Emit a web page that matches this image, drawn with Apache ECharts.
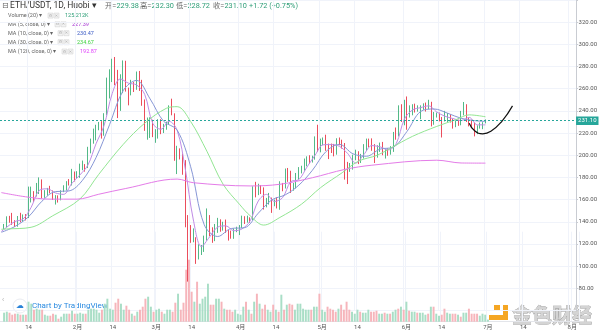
<!DOCTYPE html>
<html><head><meta charset="utf-8">
<script src="https://cdn.jsdelivr.net/npm/echarts@6/dist/echarts.min.js"></script>
<style>html,body{margin:0;padding:0;background:#fff}#c{width:600px;height:333px}</style>
</head><body><div id="c"></div>
<script>
// ---------- DATA ----------
const axisStart = '2020-01-04', axisEnd = '2020-08-03', candleStart = '2020-01-05';
const symbolTitle = 'ETH/USDT, 1D, Huobi ▾';

const open = [
134.2,135.4,144.2,142.8,140.7,137.7,144.8,142.4,146.5,143.6,165.6,166.4,163.7,171.0,174.2,166.9,167.1,169.5,168.0,162.5,162.8,160.3,167.8,170.1,175.4,174.2,184.4,
179.9,183.6,188.6,189.9,189.3,204.2,212.3,222.7,223.2,228.6,223.5,236.7,265.7,268.3,284.2,264.7,259.0,267.9,282.6,258.5,257.0,265.3,261.6,274.5,265.5,248.4,224.7,226.0,226.7,
217.1,217.7,231.6,223.9,224.3,228.4,244.9,237.2,199.4,202.8,200.7,194.6,141.0,124.0,123.3,125.3,110.3,113.9,115.0,126.0,145.0,131.5,125.0,135.8,138.8,136.1,139.0,131.6,130.9,125.2,132.6,
133.2,135.7,141.3,141.1,143.7,142.3,169.6,164.8,172.9,170.1,157.3,158.3,161.8,156.4,157.5,153.0,171.6,170.7,186.7,180.5,171.0,171.5,182.0,185.2,188.8,193.6,196.7,196.6,198.1,215.1,
207.1,212.5,214.2,209.3,207.3,204.6,203.9,212.2,211.8,210.9,187.8,186.0,189.5,198.9,202.4,194.7,199.8,206.8,213.8,213.7,209.5,199.1,207.5,208.1,202.6,204.0,201.9,207.3,219.8,219.4,243.7,
231.0,248.0,237.2,243.6,244.1,240.5,242.0,244.1,245.4,244.0,247.2,229.6,236.4,237.9,233.9,232.2,235.4,236.7,232.6,228.8,229.4,227.6,238.0,244.0,232.0,229.0,228.4,221.9,225.5,228.6,
229.38];
const close = [
135.4,144.2,142.8,140.7,137.7,144.8,142.4,146.5,143.6,165.6,166.4,163.7,171.0,174.2,166.9,167.1,169.5,168.0,162.5,162.8,160.3,167.8,170.1,175.4,174.2,184.4,179.9,
183.6,188.6,189.9,189.3,204.2,212.3,222.7,223.2,228.6,223.5,236.7,265.7,268.3,284.2,264.7,259.0,267.9,282.6,258.5,257.0,265.3,261.6,274.5,265.5,248.4,224.7,226.0,226.7,217.1,
217.7,231.6,223.9,224.3,228.4,244.9,237.2,199.4,202.8,200.7,194.6,141.0,124.0,123.3,125.3,110.3,113.9,115.0,126.0,145.0,131.5,125.0,135.8,138.8,136.1,139.0,131.6,130.9,125.2,132.6,133.2,
135.7,141.3,141.1,143.7,142.3,169.6,164.8,172.9,170.1,157.3,158.3,161.8,156.4,157.5,153.0,171.6,170.7,186.7,180.5,171.0,171.5,182.0,185.2,188.8,193.6,196.7,196.6,198.1,215.1,207.1,
212.5,214.2,209.3,207.3,204.6,203.9,212.2,211.8,210.9,187.8,186.0,189.5,198.9,202.4,194.7,199.8,206.8,213.8,213.7,209.5,199.1,207.5,208.1,202.6,204.0,201.9,207.3,219.8,219.4,243.7,231.0,
248.0,237.2,243.6,244.1,240.5,242.0,244.1,245.4,244.0,247.2,229.6,236.4,237.9,233.9,232.2,235.4,236.7,232.6,228.8,229.4,227.6,238.0,244.0,232.0,229.0,228.4,221.9,225.5,228.6,229.38,
231.10];
const high = [
138.0,144.9,145.3,148.0,141.4,145.2,148.1,146.6,146.9,171.7,171.7,167.6,175.0,180.0,178.2,168.5,170.5,172.4,168.2,164.0,163.8,168.4,172.9,176.6,178.5,187.7,185.3,
185.6,192.4,195.2,192.0,207.6,215.0,224.0,227.5,230.0,230.7,237.9,270.0,277.5,287.0,288.6,277.0,273.0,285.5,285.2,261.0,268.0,266.0,275.5,276.0,268.0,250.3,234.0,234.2,232.0,
223.5,232.5,232.5,228.3,230.3,245.0,251.0,237.8,208.5,206.2,201.5,195.6,146.0,137.0,134.0,126.0,119.7,119.0,127.5,152.0,146.0,135.0,138.0,143.5,142.2,140.0,142.0,132.5,132.0,134.0,135.5,
137.0,145.5,145.0,145.5,144.0,172.0,176.0,174.3,173.0,171.0,161.5,166.0,161.8,160.0,162.0,176.5,175.0,188.0,188.5,186.0,175.0,184.0,189.3,190.5,197.0,199.0,200.0,199.6,217.0,227.5,
215.0,216.0,218.5,210.5,210.5,210.2,215.3,216.0,214.0,211.0,194.0,193.0,200.5,205.0,203.6,201.2,210.0,215.0,215.0,215.2,210.0,209.0,211.4,212.0,205.5,206.2,208.2,221.0,225.0,245.0,246.0,
250.0,253.0,245.0,246.0,246.5,245.0,245.0,246.8,247.5,250.0,248.2,239.0,238.5,238.5,234.5,240.0,238.0,237.0,233.0,231.4,232.0,240.0,248.0,246.0,234.0,232.0,229.5,227.0,229.5,229.8,
232.30];
const low = [
133.5,134.9,139.1,137.2,135.3,135.5,139.5,139.9,141.2,143.3,157.4,157.8,162.8,165.0,161.0,161.6,163.6,165.6,159.6,155.5,157.3,159.3,166.7,168.2,172.7,172.7,176.3,
179.4,179.6,186.5,185.2,188.4,201.7,210.4,213.4,222.5,215.0,217.6,236.1,251.2,266.0,263.2,233.5,240.0,256.0,257.4,245.0,254.0,257.0,259.0,258.0,244.6,222.0,214.0,215.6,216.3,
211.2,215.0,219.0,220.0,223.0,227.3,236.0,195.0,183.0,196.2,182.4,135.0,86.0,121.0,121.5,102.0,106.0,110.0,112.8,123.0,127.0,121.0,122.5,130.0,131.0,132.0,130.0,123.0,124.7,124.6,130.6,
128.0,134.4,138.0,139.2,139.0,141.5,162.0,164.0,165.0,151.0,153.0,155.5,148.0,154.0,152.0,150.8,167.5,170.0,176.0,166.0,168.0,170.0,178.0,183.6,186.0,190.0,192.2,193.4,196.0,203.0,
202.6,209.0,204.0,196.5,202.0,199.0,200.5,209.0,206.0,178.0,174.0,185.0,187.0,195.5,192.0,193.0,197.0,204.0,207.2,204.0,193.0,197.8,203.0,200.0,197.0,199.5,200.5,203.0,214.0,217.0,230.0,
227.0,223.0,234.0,236.0,238.5,239.3,232.5,241.0,239.4,241.5,226.0,227.5,234.0,230.5,216.0,230.5,230.0,229.5,224.0,225.3,226.5,227.0,236.0,230.0,226.0,225.0,217.0,219.0,224.0,223.5,
228.72];
// volume, thousands
const volume = [
540,600,540,420,480,480,420,420,420,1200,1080,720,780,720,720,420,360,360,480,420,180,300,480,480,480,660,480,
480,540,480,480,720,780,780,720,540,720,1080,1380,780,720,1140,1380,1080,720,960,720,480,360,600,720,900,1380,1500,900,600,
720,780,600,480,720,720,600,1140,1680,720,1140,3120,3720,1800,1200,2400,1080,1380,1500,2280,1020,1020,1380,1380,1200,780,720,720,600,720,480,
420,900,1200,720,480,1200,1680,1080,780,1020,720,600,1020,720,600,1620,720,1020,1080,1020,720,1080,1080,780,720,720,720,900,900,1680,
720,600,900,780,720,600,780,1020,720,1200,720,600,480,720,600,540,540,720,600,600,660,480,480,540,480,480,600,720,780,900,720,
1200,660,600,600,540,540,540,420,480,900,900,480,360,420,780,540,480,480,480,420,300,540,540,780,480,480,480,360,480,420,
125.212];

const ma5Points = [['2020-01-04',131.2],['2020-01-06',135.1],['2020-01-09',140.2],['2020-01-12',142.4],['2020-01-15',152.9],['2020-01-18',168.2],['2020-01-21',169.7],['2020-01-24',166.0],['2020-01-27',164.7],['2020-01-30',174.4],['2020-02-02',182.1],['2020-02-05',191.1],['2020-02-08',210.3],['2020-02-11',226.9],['2020-02-14',255.7],['2020-02-17',268.8],['2020-02-20',265.0],['2020-02-23',263.4],['2020-02-26',254.9],['2020-02-29',228.6],['2020-03-03',223.4],['2020-03-06',230.6],['2020-03-09',222.5],['2020-03-12',187.7],['2020-03-15',141.6],['2020-03-18',117.6],['2020-03-21',126.3],['2020-03-24',135.2],['2020-03-27',136.3],['2020-03-30',131.9],['2020-04-02',133.6],['2020-04-05',140.8],['2020-04-08',158.7],['2020-04-11',164.7],['2020-04-14',158.3],['2020-04-17',161.8],['2020-04-20',176.1],['2020-04-23',178.0],['2020-04-26',189.3],['2020-04-29',200.0],['2020-05-02',209.4],['2020-05-05',209.6],['2020-05-08',208.0],['2020-05-11',201.7],['2020-05-14',192.9],['2020-05-17',200.5],['2020-05-20',208.7],['2020-05-23',207.6],['2020-05-26',204.8],['2020-05-29',210.5],['2020-06-01',232.4],['2020-06-04',240.8],['2020-06-07',242.9],['2020-06-10',244.5],['2020-06-13',239.0],['2020-06-16',235.2],['2020-06-19',233.1],['2020-06-22',231.3],['2020-06-25',234.1],['2020-06-28',227.4],['2020-07-01',227.39]];
const ma10Points = [['2020-01-04',130.5],['2020-01-09',135.7],['2020-01-14',144.4],['2020-01-19',158.5],['2020-01-24',167.2],['2020-01-29',167.8],['2020-02-03',177.4],['2020-02-08',197.8],['2020-02-13',227.5],['2020-02-18',258.1],['2020-02-23',267.5],['2020-02-28',250.8],['2020-03-04',230.6],['2020-03-09',222.7],['2020-03-14',189.6],['2020-03-19',137.4],['2020-03-24',126.7],['2020-03-29',133.9],['2020-04-03',134.7],['2020-04-08',147.7],['2020-04-13',159.7],['2020-04-18',164.3],['2020-04-23',173.0],['2020-04-28',186.4],['2020-05-03',203.2],['2020-05-08',209.8],['2020-05-13',201.3],['2020-05-18',199.1],['2020-05-23',205.5],['2020-05-28',207.4],['2020-06-02',221.5],['2020-06-07',239.4],['2020-06-12',241.7],['2020-06-17',237.9],['2020-06-22',233.3],['2020-06-27',231.2],['2020-07-01',230.47]];
const ma30Points = [['2020-01-04',133.2],['2020-01-06',133.5],['2020-01-15',135.0],['2020-01-23',145.4],['2020-02-02',160.4],['2020-02-09',182.7],['2020-02-18',209.6],['2020-02-26',228.9],['2020-03-05',242.3],['2020-03-09',243.8],['2020-03-14',230.4],['2020-03-20',203.6],['2020-03-26',173.8],['2020-04-01',155.9],['2020-04-05',145.4],['2020-04-10',137.0],['2020-04-16',143.9],['2020-04-24',155.9],['2020-05-01',170.7],['2020-05-09',184.2],['2020-05-15',194.6],['2020-05-22',200.0],['2020-05-27',206.5],['2020-06-04',217.0],['2020-06-13',226.0],['2020-06-20',232.0],['2020-06-25',236.4],['2020-07-01',234.67]];
const ma120Points = [['2020-01-04',166.3],['2020-01-13',162.5],['2020-01-22',160.4],['2020-02-01',160.4],['2020-02-09',164.8],['2020-02-19',170.0],['2020-03-09',178.5],['2020-03-15',175.2],['2020-04-05',172.3],['2020-04-16',173.8],['2020-04-28',179.7],['2020-05-10',187.2],['2020-05-20',191.0],['2020-06-13',195.5],['2020-06-22',193.0],['2020-07-01',192.87]];
// hand-drawn arc annotation (date, price)
const arcPoints = [['2020-06-25',228.9],['2020-06-27',222.0],['2020-06-30',219.3],['2020-07-03',221.6],['2020-07-07',230.4],['2020-07-11',244.5]];

// ---------- BUILD ----------
const UP = '#53b987', DN = '#eb4d5c';
const UPV = '#a9dec6', DNV = '#f6b5bb';
const GRID = '#f0f3fa';
const FONT = 'Roboto, "Noto Sans CJK SC", sans-serif';

function dayList(a, b) {
  const out = []; let t = Date.parse(a + 'T00:00:00Z'); const e = Date.parse(b + 'T00:00:00Z');
  while (t <= e) { out.push(new Date(t).toISOString().slice(0, 10)); t += 86400000; }
  return out;
}
const categories = dayList(axisStart, axisEnd);
const offset = categories.indexOf(candleStart);
const N = close.length;
const candleData = categories.map((d, i) => { const k = i - offset; return (k >= 0 && k < N) ? [open[k], close[k], low[k], high[k]] : '-'; });
const volData = categories.map((d, i) => { const k = i - offset; if (k < 0 || k >= N) return '-';
  return { value: volume[k], itemStyle: { color: close[k] >= open[k] ? UPV : DNV } }; });

const isTickDay = v => v.slice(8) === '01' || v.slice(8) === '14';
const fmtDay = v => v.slice(8) === '01' ? (+v.slice(5, 7)) + '月' : '14';

const lastO = open[N-1], lastH = high[N-1], lastL = low[N-1], lastC = close[N-1], prevC = close[N-2];
const chg = lastC - prevC, pct = chg / prevC * 100;

const chart = echarts.init(document.getElementById('c'), null, { renderer: 'canvas' });

function maSeries(name, pts, color) {
  return { name, type: 'line', data: pts, xAxisIndex: 0, yAxisIndex: 0, smooth: 0.35, showSymbol: false, symbol: 'none',
    lineStyle: { color, width: 1 }, z: 4, silent: true };
}

const VALC = '#2e9e77';
function legendRow(label, iconX, valX, y, val, color) {
  return [
    { type: 'text', x: 8, y, style: { text: label, fill: '#666', fontSize: 5.5, fontFamily: FONT, verticalAlign: 'middle' } },
    { type: 'rect', shape: { x: iconX, y: y - 2.6, width: 5, height: 5 }, style: { fill: '#f3f3f3', stroke: '#cfcfcf', lineWidth: 0.5 } },
    { type: 'rect', shape: { x: iconX + 6, y: y - 2.6, width: 5, height: 5 }, style: { fill: '#f3f3f3', stroke: '#cfcfcf', lineWidth: 0.5 } },
    { type: 'text', x: iconX + 2.5, y, style: { text: '⚙', fill: '#aaa', fontSize: 4, fontFamily: 'DejaVu Sans', align: 'center', verticalAlign: 'middle' } },
    { type: 'text', x: iconX + 8.5, y, style: { text: '✕', fill: '#aaa', fontSize: 4, fontFamily: 'DejaVu Sans', align: 'center', verticalAlign: 'middle' } },
    { type: 'text', x: valX, y, style: { text: val, fill: color, fontSize: 5.5, fontFamily: FONT, verticalAlign: 'middle' } }
  ];
}
function ohlc(lbl, v, x) {
  return [
    { type: 'text', x, y: 6, style: { text: lbl + '=', fill: '#666', fontSize: 7.3, fontFamily: FONT, verticalAlign: 'middle' } },
    { type: 'text', x: x + 11.5, y: 6, style: { text: v, fill: VALC, fontSize: 7.3, fontFamily: FONT, verticalAlign: 'middle' } }
  ];
}
const last = a => a[a.length - 1][1];

const graphics = [
  { type: 'text', x: 2, y: 6, style: { text: '⊟', fill: '#666', fontSize: 8, fontFamily: 'DejaVu Sans', verticalAlign: 'middle' } },
  { type: 'text', x: 10, y: 6, style: { text: symbolTitle, fill: '#333', fontSize: 8.5, fontFamily: FONT, verticalAlign: 'middle' } },
  ...ohlc('开', lastO.toFixed(2), 105), ...ohlc('高', lastH.toFixed(2), 140), ...ohlc('低', lastL.toFixed(2), 176), ...ohlc('收', lastC.toFixed(2), 213),
  { type: 'text', x: 249, y: 6, style: { text: (chg >= 0 ? '+' : '') + chg.toFixed(2) + ' (' + (pct >= 0 ? '+' : '') + pct.toFixed(2) + '%)', fill: VALC, fontSize: 7.3, fontFamily: FONT, verticalAlign: 'middle' } },
  ...legendRow('Volume (20) ▾', 48, 65, 15.7, volume[N-1].toFixed(3) + 'K', VALC),
  ...legendRow('MA (5, close, 0) ▾', 55, 72, 24.4, last(ma5Points).toFixed(2), '#a52fd0'),
  ...legendRow('MA (10, close, 0) ▾', 58, 77, 33.3, last(ma10Points).toFixed(2), '#3b5bc4'),
  ...legendRow('MA (30, close, 0) ▾', 58, 77, 42.3, last(ma30Points).toFixed(2), '#3fd13f'),
  ...legendRow('MA (120, close, 0) ▾', 62, 80, 51.6, last(ma120Points).toFixed(2), '#e040fb'),
  // TradingView badge
  { type: 'text', x: 2, y: 300, style: { text: '‹', fill: '#aaa', fontSize: 7, fontFamily: FONT, verticalAlign: 'middle' } },
  { type: 'circle', shape: { cx: 20, cy: 306, r: 7 }, style: { fill: '#fff', stroke: '#e3e6ec', lineWidth: 0.8 } },
  { type: 'text', x: 20, y: 306, style: { text: '☁', fill: '#2a83d8', fontSize: 8, fontFamily: 'DejaVu Sans', align: 'center', verticalAlign: 'middle' } },
  { type: 'text', x: 32, y: 305.5, style: { text: 'Chart by TradingView', fill: '#2a8ae0', fontSize: 8, fontFamily: FONT, verticalAlign: 'middle' } },
  // watermark
  { type: 'rect', shape: { x: 494, y: 305, width: 6, height: 6 }, style: { fill: '#f5a623' } },
  { type: 'rect', shape: { x: 503, y: 305, width: 5, height: 15 }, style: { fill: '#f5a623' } },
  { type: 'rect', shape: { x: 489, y: 315, width: 19, height: 5 }, style: { fill: '#f5a623' } },
  { type: 'text', x: 512, y: 315, style: { text: '金色财经', fill: '#d4d4d4', stroke: '#8f8f8f', lineWidth: 0.6, fontSize: 20, fontWeight: 'bold', fontFamily: 'Noto Sans CJK SC', verticalAlign: 'middle' } }
];

chart.setOption({
  animation: false,
  backgroundColor: '#ffffff',
  textStyle: { fontFamily: FONT },
  grid: [
    { left: 0, right: 21, top: -2.45, bottom: 22.55 },
    { left: 0, right: 21, bottom: 11.3, height: 90 }
  ],
  xAxis: [
    { type: 'category', data: categories, gridIndex: 0, boundaryGap: true,
      axisLine: { show: false }, axisTick: { show: false }, axisLabel: { show: false },
      splitLine: { show: true, interval: (i, v) => isTickDay(v), lineStyle: { color: GRID, width: 1 } } },
    { type: 'category', data: categories, gridIndex: 1, boundaryGap: true,
      axisLine: { show: true, lineStyle: { color: '#e3e5ea' } }, axisTick: { show: false },
      axisLabel: { interval: (i, v) => isTickDay(v), formatter: fmtDay, fontSize: 6, color: '#555', margin: 3, fontFamily: FONT },
      splitLine: { show: true, interval: (i, v) => isTickDay(v), lineStyle: { color: GRID, width: 1 } } }
  ],
  yAxis: [
    { type: 'value', gridIndex: 0, position: 'right', min: 60, max: 340, interval: 20, scale: false,
      axisLine: { show: true, lineStyle: { color: '#c9ccd2' } },
      axisTick: { show: true, length: 2, lineStyle: { color: '#c9ccd2' } },
      axisLabel: { fontSize: 6, color: '#555', margin: 2.5, fontFamily: FONT, formatter: v => (v >= 80 && v <= 320) ? v.toFixed(2) : '' },
      splitLine: { show: true, lineStyle: { color: GRID, width: 1 } } },
    { type: 'value', gridIndex: 1, min: 0, max: 5400, show: false, splitLine: { show: false } }
  ],
  graphic: graphics,
  series: [
    { name: 'Volume', type: 'bar', xAxisIndex: 1, yAxisIndex: 1, data: volData, barWidth: '72%', z: 1, silent: true },
    { name: 'ETH/USDT', type: 'candlestick', xAxisIndex: 0, yAxisIndex: 0, data: candleData, barWidth: 1.2, z: 3,
      itemStyle: { color: UP, color0: DN, borderColor: UP, borderColor0: DN, borderWidth: 1 },
      markLine: { symbol: ['none', 'none'], silent: true, animation: false,
        data: [{ yAxis: lastC }],
        lineStyle: { color: '#26a69a', type: [2, 2], width: 1 },
        label: { position: 'end', formatter: lastC.toFixed(2), color: '#fff', backgroundColor: '#26a69a', padding: [1.5, 2, 1, 2], fontSize: 6, distance: 0, fontFamily: FONT } } },
    maSeries('MA5', ma5Points, '#c08ce6'),
    maSeries('MA10', ma10Points, '#8797d6'),
    maSeries('MA30', ma30Points, '#93e693'),
    maSeries('MA120', ma120Points, '#e47ce8'),
    { name: 'arc', type: 'line', data: arcPoints, xAxisIndex: 0, yAxisIndex: 0, smooth: 0.5, showSymbol: false, symbol: 'none',
      lineStyle: { color: '#111', width: 1.2 }, z: 6, silent: true }
  ]
});
</script>
</body></html>
